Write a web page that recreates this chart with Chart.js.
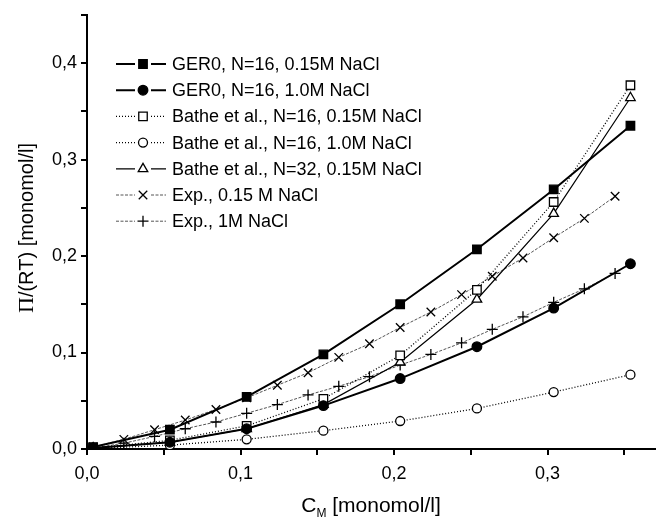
<!DOCTYPE html>
<html>
<head>
<meta charset="utf-8">
<script src="https://cdn.jsdelivr.net/npm/chart.js@4.4.1/dist/chart.umd.min.js"></script>
<style>
  body { margin: 0; background: #fff; }
  #wrap { width: 665px; height: 518px; }
</style>
</head>
<body>
<div id="wrap"><canvas id="chart" width="665" height="518"></canvas></div>
<script>
// concentrations (monomol/l)
const xModel = [0.004, 0.054, 0.104, 0.154, 0.204, 0.254, 0.304, 0.354];
const xExp = [0.004, 0.024, 0.044, 0.064, 0.084, 0.104, 0.124, 0.144, 0.164,
  0.184, 0.204, 0.224, 0.244, 0.264, 0.284, 0.304, 0.324, 0.344];

// Pi/(RT) values
const ger015 = [0.002, 0.020, 0.054, 0.098, 0.150, 0.207, 0.269, 0.335];
const ger10 = [0.001, 0.007, 0.021, 0.045, 0.073, 0.106, 0.146, 0.192];
const bathe16_015 = [0.001, 0.009, 0.024, 0.052, 0.097, 0.165, 0.256, 0.377];
const bathe16_10 = [0.0005, 0.004, 0.010, 0.019, 0.029, 0.042, 0.059, 0.077];
const bathe32_015 = [0.001, 0.007, 0.021, 0.046, 0.090, 0.155, 0.244, 0.364];
const exp015 = [0.002, 0.010, 0.020, 0.030, 0.041, 0.053, 0.066, 0.079, 0.095,
  0.109, 0.126, 0.142, 0.160, 0.179, 0.198, 0.219, 0.239, 0.262];
const exp10 = [0.001, 0.006, 0.013, 0.021, 0.028, 0.037, 0.046, 0.056, 0.065,
  0.075, 0.087, 0.098, 0.110, 0.124, 0.137, 0.152, 0.166, 0.182];

const seriesNames = [
  "GER0, N=16, 0.15M NaCl",
  "GER0, N=16, 1.0M NaCl",
  "Bathe et al., N=16, 0.15M NaCl",
  "Bathe et al., N=16, 1.0M NaCl",
  "Bathe et al., N=32, 0.15M NaCl",
  "Exp., 0.15 M NaCl",
  "Exp., 1M NaCl",
];

const xTickValues = [0, 0.05, 0.1, 0.15, 0.2, 0.25, 0.3, 0.35];
const xTickLabels = ["0,0", "", "0,1", "", "0,2", "", "0,3", ""];
const yTickValues = [0, 0.05, 0.1, 0.15, 0.2, 0.25, 0.3, 0.35, 0.4, 0.45];
const yTickLabels = ["0,0", "", "0,1", "", "0,2", "", "0,3", "", "0,4", ""];

const FONT = '"Liberation Sans", Arial, sans-serif';

function pts(xs, ys) {
  return xs.map((x, i) => ({ x: x, y: ys[i] }));
}

const datasets = [
  { data: pts(xModel, ger015), borderWidth: 2, borderDash: [],
    pointStyle: "rect", pointRadius: 6, pointBackgroundColor: "#000" },
  { data: pts(xModel, ger10), borderWidth: 2, borderDash: [],
    pointStyle: "circle", pointRadius: 4.8, pointBackgroundColor: "#000" },
  { data: pts(xModel, bathe16_015), borderWidth: 1.3, borderDash: [1, 2],
    pointStyle: "rect", pointRadius: 6, pointBackgroundColor: "#fff" },
  { data: pts(xModel, bathe16_10), borderWidth: 1.3, borderDash: [1, 2],
    pointStyle: "circle", pointRadius: 4.5, pointBackgroundColor: "#fff" },
  { data: pts(xModel, bathe32_015), borderWidth: 1.2, borderDash: [],
    pointStyle: "triangle", pointRadius: 5.5, pointBackgroundColor: "#fff" },
  { data: pts(xExp, exp015), borderWidth: 1, borderDash: [3, 1.5], lineColor: "#555",
    pointStyle: "crossRot", pointRadius: 6, pointBackgroundColor: "#000" },
  { data: pts(xExp, exp10), borderWidth: 1, borderDash: [3, 1.5], lineColor: "#555",
    pointStyle: "cross", pointRadius: 5.5, pointBackgroundColor: "#000" },
].map((d, i) => ({
  label: seriesNames[i],
  data: d.data,
  borderColor: d.lineColor || "#000",
  borderWidth: d.borderWidth,
  borderDash: d.borderDash,
  pointStyle: d.pointStyle,
  pointRadius: d.pointRadius,
  pointBorderColor: "#000",
  pointBackgroundColor: d.pointBackgroundColor,
  pointBorderWidth: 1.3,
  tension: 0,
  fill: false,
}));

// legend drawn inside the plot: line - marker - line, then text
const legendPlugin = {
  id: "insideLegend",
  afterDraw(chart) {
    const ctx = chart.ctx;
    chart.data.datasets.forEach((ds, i) => {
      const y = 64 + i * 26.2;
      ctx.save();
      ctx.strokeStyle = ds.borderColor;
      ctx.lineWidth = ds.borderWidth;
      ctx.setLineDash(ds.borderDash);
      ctx.beginPath();
      ctx.moveTo(116, y); ctx.lineTo(135, y);
      ctx.moveTo(151, y); ctx.lineTo(166, y);
      ctx.stroke();
      ctx.setLineDash([]);
      ctx.strokeStyle = "#000";
      ctx.fillStyle = ds.pointBackgroundColor;
      ctx.lineWidth = ds.pointBorderWidth;
      Chart.helpers.drawPoint(ctx, {
        pointStyle: ds.pointStyle, radius: ds.pointRadius,
        rotation: 0, borderWidth: ds.pointBorderWidth,
      }, 143, y);
      ctx.fillStyle = "#000";
      ctx.font = "18px " + FONT;
      ctx.textBaseline = "middle";
      ctx.textAlign = "left";
      ctx.fillText(ds.label, 172, y + 1);
      ctx.restore();
    });
  },
};

// axis titles (x title needs a subscript, y title a serif Pi)
const titlePlugin = {
  id: "axisTitles",
  afterDraw(chart) {
    const ctx = chart.ctx;
    const a = chart.chartArea;
    ctx.save();
    ctx.fillStyle = "#000";
    ctx.textBaseline = "alphabetic";
    ctx.textAlign = "left";
    const big = "21px " + FONT, small = "12px " + FONT;
    ctx.font = big;
    const wC = ctx.measureText("C").width;
    const wRest = ctx.measureText(" [monomol/l]").width;
    ctx.font = small;
    const wM = ctx.measureText("M").width;
    let x = (a.left + a.right) / 2 - (wC + wM + wRest) / 2;
    const base = 512;
    ctx.font = big;
    ctx.fillText("C", x, base);
    x += wC;
    ctx.font = small;
    ctx.fillText("M", x, base + 5);
    x += wM;
    ctx.font = big;
    ctx.fillText(" [monomol/l]", x, base);

    // rotated y title
    const serif = '22px "Liberation Serif", "DejaVu Serif", serif';
    const sans = "20px " + FONT;
    ctx.font = serif;
    const wPi = ctx.measureText("\u03A0").width;
    ctx.font = sans;
    const wTail = ctx.measureText("/(RT) [monomol/l]").width;
    ctx.translate(33, 228);
    ctx.rotate(-Math.PI / 2);
    let s = -(wPi + wTail) / 2;
    ctx.font = serif;
    ctx.fillText("\u03A0", s, 0);
    ctx.font = sans;
    ctx.fillText("/(RT) [monomol/l]", s + wPi, 0);
    ctx.restore();
  },
};

const axisCommon = {
  type: "linear",
  border: { display: true, color: "#000", width: 2 },
  grid: { drawOnChartArea: false, drawTicks: true, tickLength: 6,
    color: "#000", lineWidth: 2 },
};

new Chart(document.getElementById("chart").getContext("2d"), {
  type: "line",
  data: { datasets: datasets },
  plugins: [legendPlugin, titlePlugin],
  options: {
    responsive: false,
    animation: false,
    layout: { padding: { top: 11, right: 10, left: 0, bottom: 0 } },
    plugins: {
      legend: { display: false },
      tooltip: { enabled: false },
    },
    scales: {
      x: {
        ...axisCommon,
        min: 0,
        max: 0.37,
        afterBuildTicks: (s) => { s.ticks = xTickValues.map((v) => ({ value: v })); },
        afterFit: (s) => { s.height = 69; },
        ticks: {
          autoSkip: false,
          maxRotation: 0,
          padding: 8,
          color: "#000",
          font: { family: FONT, size: 18 },
          callback: (v, i) => xTickLabels[i],
        },
      },
      y: {
        ...axisCommon,
        min: 0,
        max: 0.45,
        afterBuildTicks: (s) => { s.ticks = yTickValues.map((v) => ({ value: v })); },
        afterFit: (s) => { s.width = 87; },
        ticks: {
          autoSkip: false,
          padding: 4,
          color: "#000",
          font: { family: FONT, size: 18 },
          callback: (v, i) => yTickLabels[i],
        },
      },
    },
  },
});
</script>
</body>
</html>
